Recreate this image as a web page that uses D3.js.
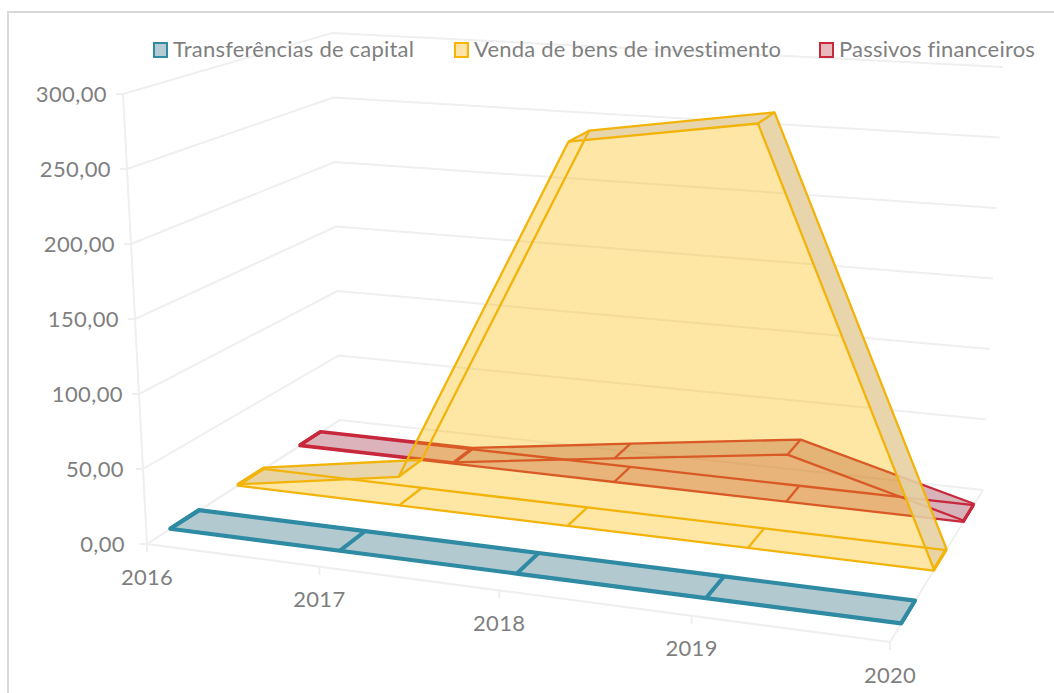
<!DOCTYPE html>
<html><head><meta charset="utf-8">
<script src="https://cdn.jsdelivr.net/npm/d3@7"></script>
<style>html,body{margin:0;padding:0;background:#fff;overflow:hidden}svg{display:block}text{font-family:Lato,sans-serif;fill:#7f7f7f}</style>
</head><body><div id="c"></div>
<script>
const years=[2016,2017,2018,2019,2020];
const yearTicks=[0,0.232,0.474,0.733,1];
const valueTicks=[0,50,100,150,200,250,300];
const seriesNames=["Transferências de capital","Venda de bens de investimento","Passivos financeiros"];
const transferencias=[0.5,0.5,0.5,0.5,0.5];
const venda=[1,20,263,284,1];
const passivos=[1,1,17,33,1];
const depthBreaks=[0,1,2,3,4,5];
const depthRange=[0.12,0.27,0.47,0.605,0.79,0.90];

const W=1054,H=693;
const svg=d3.select("#c").append("svg").attr("width",W).attr("height",H);
const corners={fl0:[147,544],bl0:[340,420],br0:[983,490],fr0:[890,642],
               fl1:[123,94],bl1:[332,33],br1:[1003,67],fr1:[911,152]};
const x=d3.scaleLinear().domain(years).range(yearTicks);
const z=d3.scaleLinear().domain(depthBreaks).range(depthRange);
const y=d3.scaleLinear().domain([0,300]).range([0,1]);
const mix=(a,b,t)=>[a[0]+(b[0]-a[0])*t,a[1]+(b[1]-a[1])*t];
function proj(u,v,w){
  const b=mix(mix(corners.fl0,corners.fr0,u),mix(corners.bl0,corners.br0,u),v);
  const t=mix(mix(corners.fl1,corners.fr1,u),mix(corners.bl1,corners.br1,u),v);
  return mix(b,t,w);
}
const p=(yr,d,val)=>proj(x(yr),z(d),y(val));
const line=d3.line();
const closed=pts=>line(pts)+"Z";

// frame: only the top and left edges fall inside the picture
svg.append("rect").attr("x",8).attr("y",12).attr("width",1100).attr("height",720)
  .attr("fill","#fff").attr("stroke","#d9d9d9").attr("stroke-width",2);

// grid
const grid=svg.append("g").attr("fill","none").attr("stroke","#efefef").attr("stroke-width",2);
valueTicks.forEach(t=>{
  grid.append("path").attr("d",line([proj(0,0,y(t)),proj(0,1,y(t)),proj(1,1,y(t))]));
  const a=proj(0,0,y(t));
  grid.append("path").attr("d",line([a,[a[0]-7,a[1]]]));
});
grid.append("path").attr("d",line([proj(0,0,0),proj(0,0,1)]));
grid.append("path").attr("d",line([proj(0,1,0),proj(0,0,0),proj(1,0,0),proj(1,1,0)]));
years.forEach(v=>{
  const a=proj(x(v),0,0);
  grid.append("path").attr("d",line([a,[a[0],a[1]+8]]));
});

// axis labels
const fmt=t=>d3.format(".2f")(t).replace(".",",");
svg.append("g").selectAll("text").data(valueTicks).join("text")
  .attr("x",t=>proj(0,0,y(t))[0]-16-(6-fmt(t).length)*3).attr("y",t=>proj(0,0,y(t))[1]+2)
  .attr("text-anchor","end").attr("dominant-baseline","middle").attr("font-size",22).attr("letter-spacing",.4)
  .text(fmt);
svg.append("g").selectAll("text").data(years).join("text")
  .attr("x",v=>proj(x(v),0,0)[0]).attr("y",v=>proj(x(v),0,0)[1]+35)
  .attr("text-anchor","middle").attr("dominant-baseline","middle").attr("font-size",22).attr("letter-spacing",.3)
  .text(d=>d);

function ribbon(vals,dFront,opts){
  const n=years.length, g=svg.append("g");
  const fl=years.map(v=>p(v,dFront,0)), bl=years.map(v=>p(v,dFront+1,0));
  const ft=years.map((v,i)=>p(v,dFront,vals[i])), bt=years.map((v,i)=>p(v,dFront+1,vals[i]));
  const flat=g.append("g").attr("opacity",opts.opacity).attr("fill",opts.fill);
  flat.append("path").attr("d",closed(fl.concat(bl.slice().reverse())));
  flat.append("path").attr("d",closed(ft.concat(fl.slice().reverse())));
  for(let i=0;i<n-1;i++){
    const q=closed([ft[i],ft[i+1],bt[i+1],bt[i]]);
    if(opts.shadeIn) flat.append("path").attr("d",q).attr("fill",opts.shadeIn[i]?opts.shadeFill:opts.fill);
  }
  if(opts.shade) opts.shade.forEach((s,i)=>{ if(s) g.append("path")
    .attr("d",closed([ft[i],ft[i+1],bt[i+1],bt[i]])).attr("fill",opts.shadeColor).attr("opacity",.9); });
  const st=g.append("g").attr("fill","none").attr("stroke",opts.stroke).attr("stroke-width",opts.sw).attr("stroke-linejoin","round");
  st.append("path").attr("d",closed(fl.concat(bl.slice().reverse())));
  st.append("path").attr("d",closed(ft.concat(bt.slice().reverse())));
  years.forEach((v,i)=>{
    st.append("path").attr("d",line([fl[i],bl[i]]));
    st.append("path").attr("d",line([ft[i],bt[i]]));
  });
}
ribbon(passivos,4,{fill:"#a02840",opacity:.35,stroke:"#c8283c",sw:2.3,shadeIn:[0,1,1,1],shadeFill:"#902838"});
ribbon(venda,2,{fill:"#fdb800",opacity:.35,stroke:"#f2b40a",sw:2.3,shade:[1,0,1,1],shadeColor:"#e5d0a2"});
ribbon(transferencias,0,{fill:"#4d7f90",opacity:.42,stroke:"#2f8ba3",sw:3.4});

// legend
const legendX=[154,455,820];
const legendFill=["#b4cbd3","#fde3a6","#e8b9bd"];
const legendStroke=["#2f8ba3","#f7b500","#c8283c"];
const lg=svg.append("g").selectAll("g").data(seriesNames).join("g")
  .attr("transform",(d,i)=>`translate(${legendX[i]},43)`);
lg.append("rect").attr("width",13).attr("height",14)
  .attr("fill",(d,i)=>legendFill[i]).attr("stroke",(d,i)=>legendStroke[i]).attr("stroke-width",2);
lg.append("text").attr("x",19).attr("y",8).attr("dominant-baseline","middle").attr("font-size",22).attr("letter-spacing",.2).text(d=>d);
</script></body></html>
